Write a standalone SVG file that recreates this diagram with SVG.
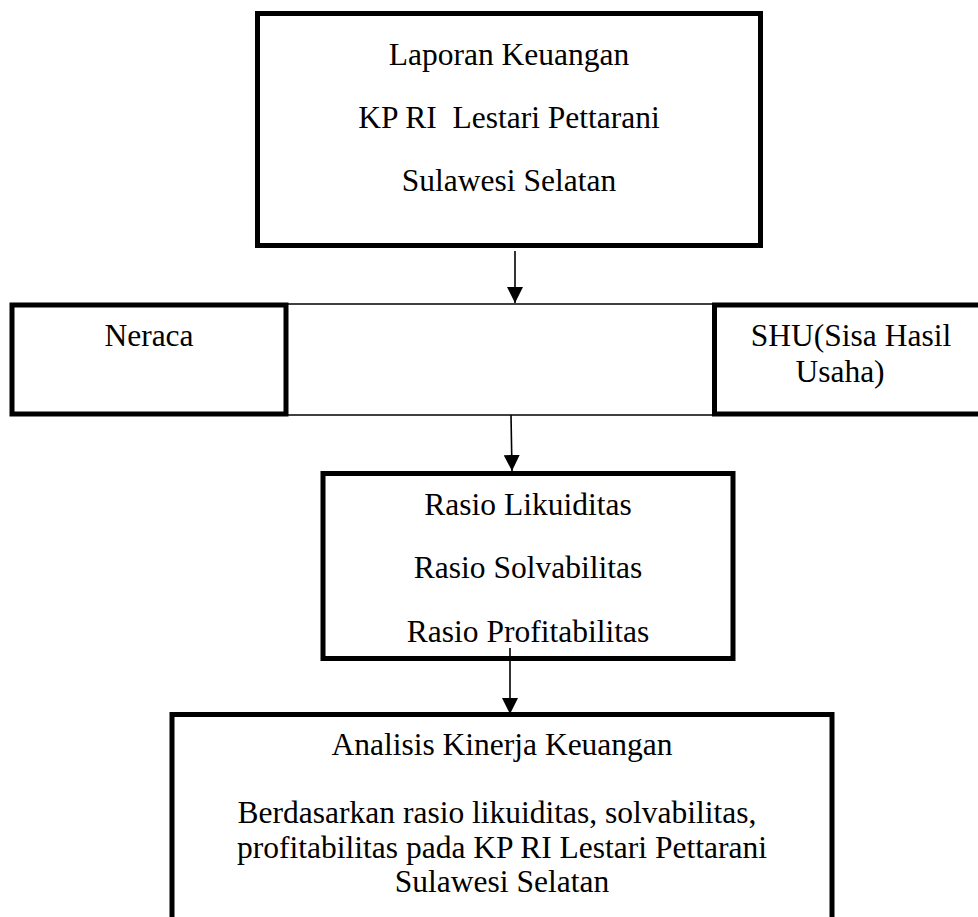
<svg xmlns="http://www.w3.org/2000/svg" width="978" height="917" viewBox="0 0 978 917">
<style>
.box{fill:#fff;stroke:#000;stroke-width:5}
.thin{stroke:#000;stroke-width:1.5;fill:none}
.conn{stroke:#000;stroke-width:1.6;fill:none}
text{font-family:"Liberation Serif","Times New Roman",serif;font-size:31.5px;fill:#000;text-anchor:middle;white-space:pre}
</style>
<defs>
<marker id="ah" markerUnits="userSpaceOnUse" markerWidth="17" markerHeight="16" refX="16" refY="8" orient="auto">
<path d="M0,0 L16,8 L0,16 Z" fill="#000"/>
</marker>
</defs>
<rect width="978" height="917" fill="#fff"/>
<g id="laporan">
<rect class="box" x="257.5" y="13.5" width="503" height="232"/>
<text x="509" y="65">Laporan Keuangan</text>
<text x="509" y="128" xml:space="preserve">KP RI  Lestari Pettarani</text>
<text x="509" y="191">Sulawesi Selatan</text>
</g>
<g id="middle-band">
<line class="thin" x1="286" y1="304" x2="714" y2="304"/>
<line class="thin" x1="286" y1="415" x2="714" y2="415"/>
</g>
<g id="neraca">
<rect class="box" x="12" y="305" width="274" height="109"/>
<text x="149" y="346">Neraca</text>
</g>
<g id="shu">
<rect class="box" x="714.5" y="305" width="280" height="109"/>
<text x="851" y="346">SHU(Sisa Hasil</text>
<text x="840" y="382">Usaha)</text>
</g>
<g id="rasio">
<rect class="box" x="323" y="473.5" width="410" height="185"/>
<text x="528" y="515">Rasio Likuiditas</text>
<text x="528" y="578">Rasio Solvabilitas</text>
<text x="528" y="642">Rasio Profitabilitas</text>
</g>
<g id="analisis">
<rect class="box" x="172" y="714.5" width="660" height="230"/>
<text x="502" y="755">Analisis Kinerja Keuangan</text>
<text x="497" y="823">Berdasarkan rasio likuiditas, solvabilitas,</text>
<text x="502" y="858">profitabilitas pada KP RI Lestari Pettarani</text>
<text x="502" y="892">Sulawesi Selatan</text>
</g>
<g id="connectors">
<line class="conn" x1="515" y1="251" x2="515" y2="303" marker-end="url(#ah)"/>
<line class="conn" x1="511" y1="415" x2="512" y2="471" marker-end="url(#ah)"/>
<line class="conn" x1="510" y1="648" x2="510" y2="714" marker-end="url(#ah)"/>
</g>
</svg>
